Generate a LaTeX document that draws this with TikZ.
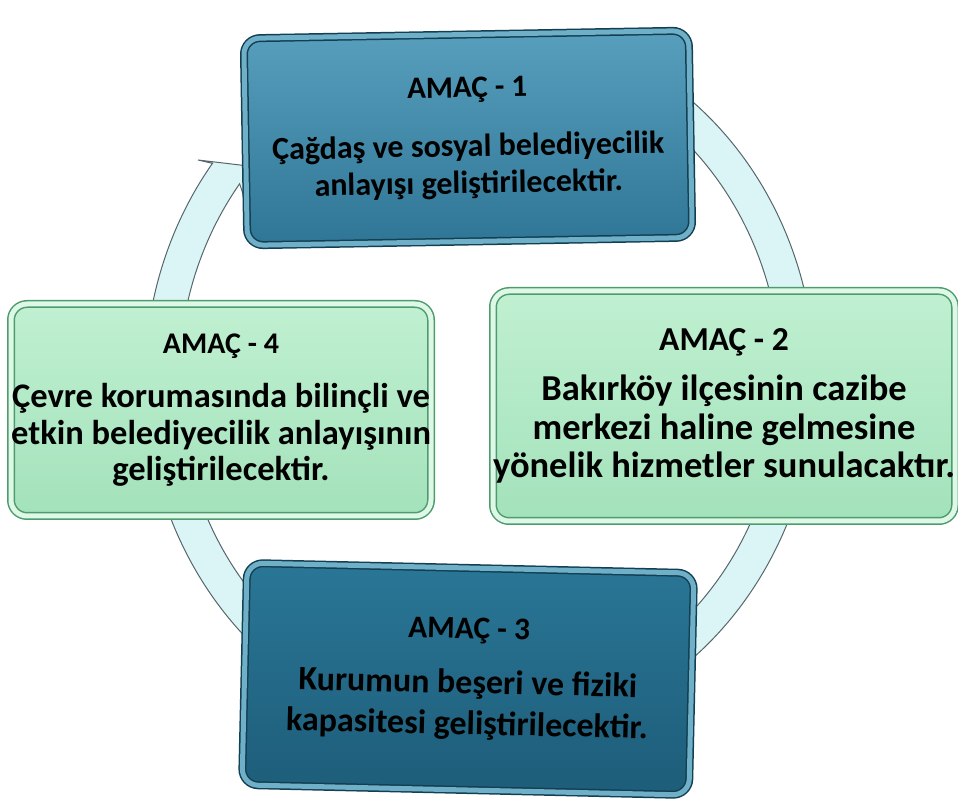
\documentclass[tikz,border=0pt]{standalone}
\usepackage{fontspec}
\setmainfont{Carlito}

\definecolor{ringfill}{HTML}{DBF5F7}
\definecolor{ringedge}{HTML}{56666C}
\definecolor{tealtop}{HTML}{589FBE}
\definecolor{tealbot}{HTML}{2F7595}
\definecolor{tealedge}{HTML}{123F52}
\definecolor{tealband}{HTML}{6FAFC8}
\definecolor{deeptop}{HTML}{2A7696}
\definecolor{deepbot}{HTML}{1D5D79}
\definecolor{greentop}{HTML}{C0F0D1}
\definecolor{greenbot}{HTML}{A3E2BB}
\definecolor{greenedge}{HTML}{4F9B6D}
\definecolor{greenband}{HTML}{DDF8E6}

\newcommand{\goalsize}[2]{\fontsize{#1}{#2}\selectfont}

\tikzstyle{goal} = [rounded corners=16pt, line width=1.5pt, double distance=5pt,
    align=center, inner sep=0pt, text=black]
\tikzstyle{tealgoal} = [goal, draw=tealedge, double=tealband,
    top color=tealtop, bottom color=tealbot]
\tikzstyle{deepgoal} = [goal, draw=tealedge, double=tealband,
    top color=deeptop, bottom color=deepbot]
\tikzstyle{greengoal} = [goal, draw=greenedge, double=greenband,
    top color=greentop, bottom color=greenbot]
\tikzstyle{ring} = [fill=ringfill, draw=ringedge, line width=1pt]

\begin{document}
\begin{tikzpicture}[x=1pt, y=1pt]
	\useasboundingbox (0,0) rectangle (958,800);
	% circular arrow behind the boxes
	\begin{scope}[shift={(480,420)}]
	    \path[ring] (60:335 and 360)
	        arc[start angle=60, end angle=-217, x radius=335, y radius=360]
	        -- (-282,220) -- (-215,212) -- (-228,160)
	        -- (-217:301 and 326)
	        arc[start angle=-217, end angle=60, x radius=301, y radius=326]
	        -- cycle;
	\end{scope}
	% the four goals
	\node[tealgoal, minimum width=445pt, minimum height=207pt, rotate=1,
	    font=\bfseries\goalsize{32}{35pt}] (amac1) at (468,662)
	    {{\goalsize{31}{35pt}AMAÇ - 1}\\[24pt]
	     Çağdaş ve sosyal belediyecilik\\[2pt]anlayışı geliştirilecektir.};
	\node[greengoal, minimum width=462pt, minimum height=230pt,
	    font=\bfseries\goalsize{36.5}{38.5pt}] (amac2) at (724,394)
	    {{\goalsize{33.5}{38pt}AMAÇ - 2}\\[12pt]
	     Bakırköy ilçesinin cazibe\\merkezi haline gelmesine\\yönelik hizmetler sunulacaktır.};
	\node[deepgoal, minimum width=447pt, minimum height=222pt, rotate=-1.3,
	    font=\bfseries\goalsize{34}{37pt}] (amac3) at (468,121)
	    {{\goalsize{31.5}{37pt}AMAÇ - 3}\\[18pt]
	     Kurumun beşeri ve fiziki\\[4pt]kapasitesi geliştirilecektir.};
	\node[greengoal, minimum width=420pt, minimum height=212pt,
	    font=\bfseries\goalsize{34.5}{36pt}] (amac4) at (221,390)
	    {{\goalsize{30}{36pt}AMAÇ - 4}\\[18pt]
	     Çevre korumasında bilinçli ve\\[1pt]etkin belediyecilik anlayışının\\geliştirilecektir.};
\end{tikzpicture}
\end{document}
